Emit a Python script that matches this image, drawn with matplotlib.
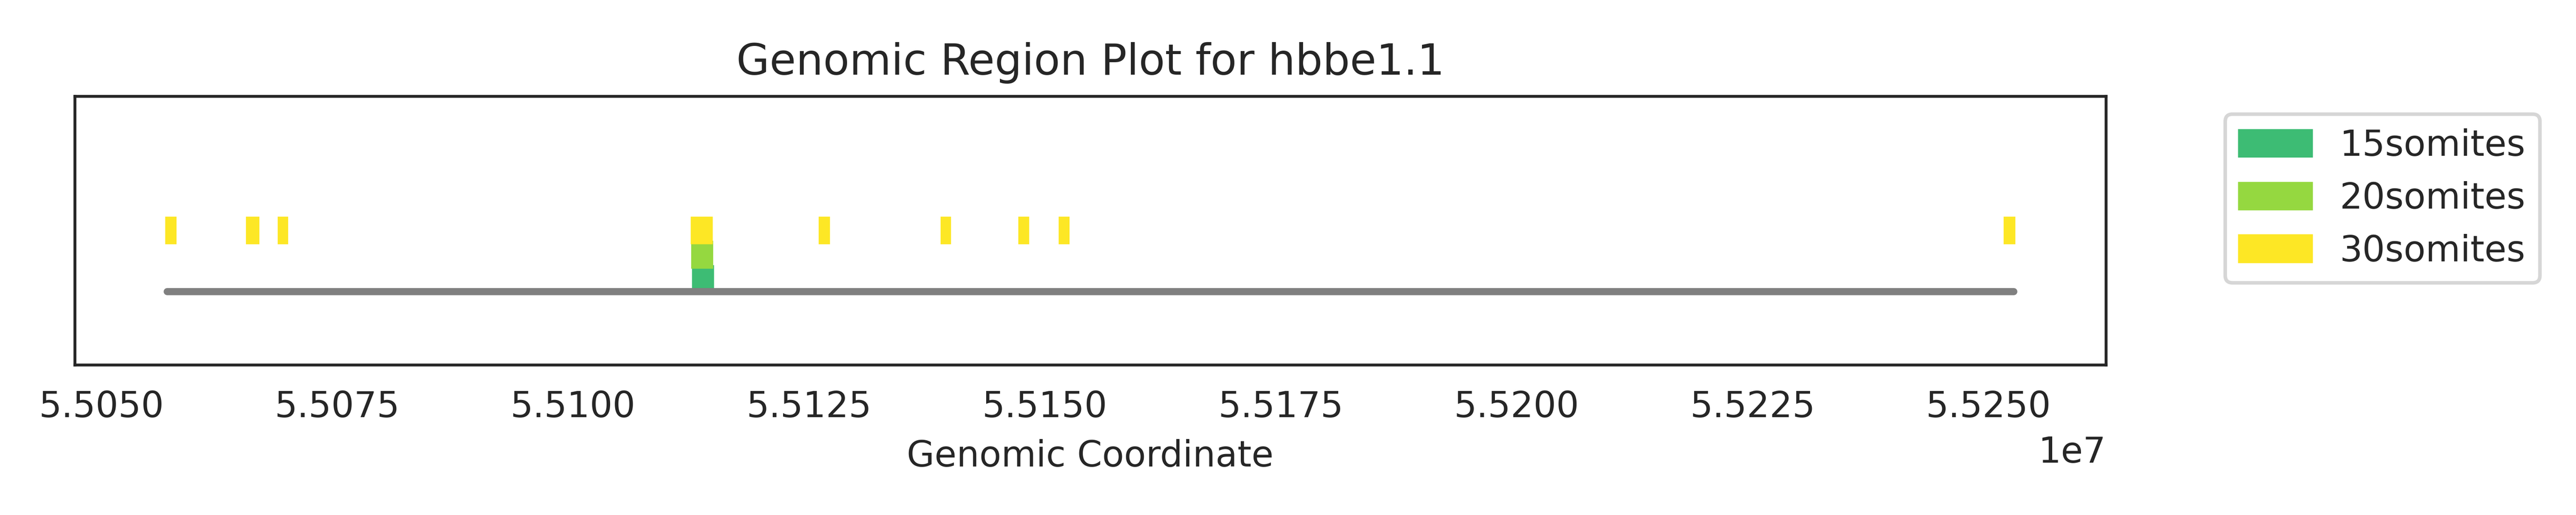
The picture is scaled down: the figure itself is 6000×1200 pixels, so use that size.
import matplotlib
matplotlib.use("Agg")
import matplotlib.pyplot as plt
import seaborn as sns
from matplotlib.patches import Rectangle

gene = "hbbe1.1"
stages = ["15somites", "20somites", "30somites"]
stage_colors = ["#3dbc74", "#95d840", "#fde725"]

# peak regions (start, end) per stage
starts_15 = [55112800]
ends_15 = [55114740]
starts_20 = [55112710]
ends_20 = [55114650]
starts_30 = [55056970, 55065520, 55068890, 55112660, 55126220,
             55139140, 55147380, 55151660, 55251800]
ends_30 = [55057770, 55066550, 55069600, 55114600, 55127020,
           55139850, 55148130, 55152410, 55252650]

peaks = [(starts_15, ends_15), (starts_20, ends_20), (starts_30, ends_30)]


def generar_grafica():
    sns.set_style("white")
    fig, ax = plt.subplots(figsize=(10, 2))
    fig.subplots_adjust(left=0.029, right=0.8175, bottom=0.292, top=0.813)

    todos_inicios = starts_15 + starts_20 + starts_30
    todos_fines = ends_15 + ends_20 + ends_30
    ax.plot([min(todos_inicios), max(todos_fines)], [0, 0], color="gray", linewidth=2)

    for i, (inicios, fines) in enumerate(peaks):
        for j, (s, e) in enumerate(zip(inicios, fines)):
            rect = Rectangle((s, i * 0.1), e - s, 0.1, color=stage_colors[i],
                             label=stages[i] if j == 0 else None)
            ax.add_patch(rect)

    ax.set_ylim(-0.3, 0.8)
    ax.set_yticks([])
    ax.set_xlabel("Genomic Coordinate")
    ax.set_title(f"Genomic Region Plot for {gene}")
    ax.legend(bbox_to_anchor=(1.05, 1), loc="upper left")

    fig.savefig("out.png", dpi=600)


generar_grafica()
